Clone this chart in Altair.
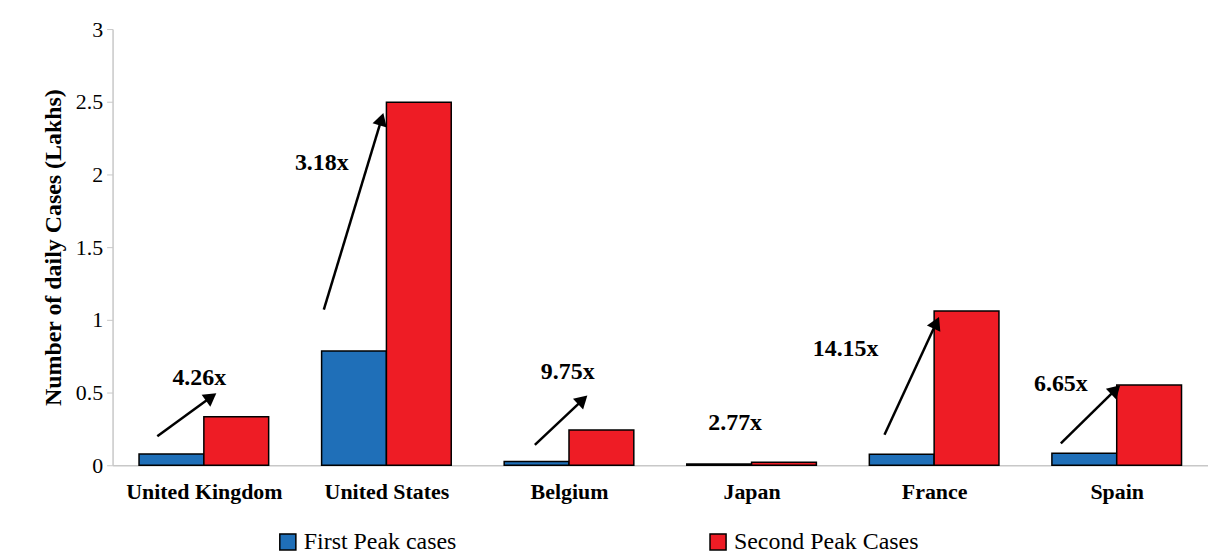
import math
import altair as alt
import pandas as pd

countries = ["United Kingdom", "United States", "Belgium", "Japan", "France", "Spain"]
first_peak = [0.078, 0.785, 0.025, 0.008, 0.075, 0.083]
second_peak = [0.333, 2.497, 0.243, 0.020, 1.060, 0.552]

ratio_labels = ["4.26x", "3.18x", "9.75x", "2.77x", "14.15x", "6.65x"]
label_x = [-0.025, 0.646, 1.993, 2.91, 3.515, 4.694]
label_y = [0.60, 2.08, 0.64, 0.29, 0.80, 0.56]

# arrows (category index units / lakhs); Japan has none
arrow_x0 = [-0.255, 0.657, 1.813, 3.728, 4.694]
arrow_y0 = [0.20, 1.07, 0.14, 0.21, 0.15]
arrow_x1 = [0.04, 0.973, 2.075, 4.012, 4.994]
arrow_y1 = [0.47, 2.38, 0.45, 0.98, 0.52]

W, H = 1100, 438
BAND = W / 6
PX_PER_Y = H / 3
FONT = "Liberation Serif"
HALF = 0.355

rows = []
for i, c in enumerate(countries):
    rows.append({"i0": i - HALF, "i1": i, "v": first_peak[i], "s": "First Peak cases"})
    rows.append({"i0": i, "i1": i + HALF, "v": second_peak[i], "s": "Second Peak Cases"})
bars_df = pd.DataFrame(rows)

arr = pd.DataFrame({"x0": arrow_x0, "y0": arrow_y0, "x1": arrow_x1, "y1": arrow_y1})
arr["ang"] = [math.degrees(math.atan2((b - a) * BAND, (d - c) * PX_PER_Y)) % 360
              for a, b, c, d in zip(arr.x0, arr.x1, arr.y0, arr.y1)]
lab = pd.DataFrame({"x": label_x, "y": label_y, "t": ratio_labels})

label_expr = "[" + ",".join(f"'{c}'" for c in countries) + "][round(datum.value)]"
xscale = alt.Scale(domain=[-0.5, 5.5], nice=False, zero=False)
yscale = alt.Scale(domain=[0, 3], nice=False)

bars = alt.Chart(bars_df).mark_bar(stroke="black", strokeWidth=1.5).encode(
    x=alt.X("i0:Q", scale=xscale, axis=alt.Axis(
        title=None, values=list(range(6)), labelExpr=label_expr, ticks=False, grid=False,
        labelFont=FONT, labelFontSize=22, labelFontWeight="bold", labelColor="black",
        labelPadding=16, domainColor="#c8c8c8", domainWidth=1.5)),
    x2="i1:Q",
    y=alt.Y("v:Q", scale=yscale, axis=alt.Axis(
        title="Number of daily Cases (Lakhs)", values=[0, 0.5, 1, 1.5, 2, 2.5, 3],
        labelExpr="datum.value", grid=False, labelFont=FONT, labelFontSize=22,
        labelColor="black", titleFont=FONT, titleFontSize=24, titleFontWeight="bold",
        titleColor="black", domainColor="#c8c8c8", domainWidth=1.5, tickColor="#c8c8c8",
        tickSize=6, labelPadding=4, titlePadding=10)),
    y2=alt.datum(0),
    color=alt.Color("s:N", scale=alt.Scale(domain=["First Peak cases", "Second Peak Cases"],
                                          range=["#1f6fb8", "#ee1c25"]),
                    legend=alt.Legend(title=None, orient="none", legendX=164, legendY=503,
                                      direction="horizontal", symbolType="square",
                                      symbolSize=260, symbolStrokeColor="black",
                                      symbolStrokeWidth=1.5, labelFont=FONT, labelFontSize=24,
                                      labelColor="black", columnPadding=250, labelLimit=400)),
)

lines = alt.Chart(arr).mark_rule(color="black", strokeWidth=2.5).encode(
    x="x0:Q", y="y0:Q", x2="x1:Q", y2="y1:Q")
heads = alt.Chart(arr).mark_point(shape="triangle-up", filled=True, color="black",
                                  size=220, opacity=1).encode(
    x="x1:Q", y="y1:Q", angle=alt.Angle("ang:Q", scale=None))
texts = alt.Chart(lab).mark_text(font=FONT, fontSize=24, fontWeight="bold",
                                 color="black").encode(x="x:Q", y="y:Q", text="t:N")

chart = (bars + lines + heads + texts).properties(
    width=W, height=H, autosize=alt.AutoSizeParams(type="none"),
    padding={"left": 105, "top": 20, "right": 0, "bottom": 90},
).configure_view(stroke=None).configure_legend(labelFont=FONT, labelFontSize=24)

chart.save("out.html", embed_options={"renderer": "svg", "actions": False})
